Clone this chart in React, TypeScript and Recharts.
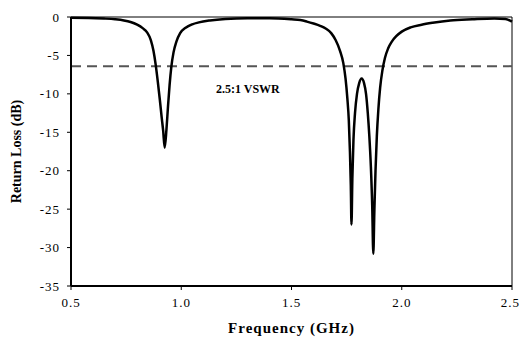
import { LineChart, Line, XAxis, YAxis, ReferenceLine } from 'recharts';

// frequency in GHz, return loss in dB
const freqs = [
  0.5, 0.58, 0.65, 0.7, 0.74, 0.77, 0.8, 0.825, 0.845, 0.862, 0.874, 0.884, 0.894, 0.903, 0.911, 0.918, 0.925,
  0.933, 0.94, 0.947, 0.955, 0.965, 0.978, 0.995, 1.02, 1.05, 1.08, 1.13, 1.2, 1.3, 1.4, 1.5, 1.54, 1.57, 1.6,
  1.63, 1.655, 1.68, 1.7, 1.72, 1.735, 1.745, 1.753, 1.76, 1.765, 1.769, 1.772,
  1.776, 1.781, 1.788, 1.797, 1.807, 1.818, 1.829, 1.838, 1.846, 1.853, 1.86, 1.866, 1.871,
  1.876, 1.881, 1.887, 1.894, 1.902, 1.912, 1.924, 1.938, 1.955, 1.975, 2.0, 2.04, 2.09, 2.14, 2.22,
  2.32, 2.42, 2.47, 2.5,
];
const returnLoss = [
  -0.1, -0.12, -0.2, -0.3, -0.45, -0.65, -1.0, -1.45, -2.0, -3.0, -4.4, -6.2, -8.5, -10.8, -13.0, -14.8, -17.0,
  -14.6, -11.6, -8.9, -6.5, -4.6, -3.2, -2.1, -1.4, -0.95, -0.7, -0.45, -0.25, -0.15, -0.15, -0.3, -0.4, -0.6, -0.85,
  -1.15, -1.5, -2.1, -3.0, -4.4, -6.0, -8.0, -10.5, -13.5, -17.5, -22.0, -27.0,
  -21.0, -16.0, -12.5, -10.0, -8.6, -8.0, -8.6, -10.0, -12.5, -15.5, -19.5, -24.5, -30.8,
  -25.0, -20.0, -15.5, -12.0, -9.2, -7.0, -5.3, -4.1, -3.2, -2.5, -1.9, -1.35, -1.0, -0.75, -0.45,
  -0.3, -0.2, -0.25, -0.6,
];
const xTicks = [0.5, 1.0, 1.5, 2.0, 2.5];
const yTicks = [0, -5, -10, -15, -20, -25, -30, -35];
const vswrLevel = -6.4;
const vswrText = '2.5:1 VSWR';

const data = freqs.map((f, i) => ({ f, rl: returnLoss[i] }));

const serif = '"Liberation Serif", "Times New Roman", serif';
const tickStyle = { fontSize: 13, fill: '#000', fontFamily: serif, letterSpacing: 1 };

export default function App() {
  return (
    <div style={{ position: 'absolute', left: 0, top: 0, background: '#fff', fontFamily: serif }}>
      <LineChart width={520} height={341} data={data} margin={{ top: 17, right: 8, bottom: 0, left: 0 }}>
        <XAxis
          dataKey="f"
          type="number"
          domain={[0.5, 2.5]}
          ticks={xTicks}
          height={55}
          tickFormatter={(v) => v.toFixed(1)}
          tick={tickStyle}
          tickSize={4}
          tickMargin={8}
          axisLine={{ stroke: '#000', strokeWidth: 2 }}
          tickLine={{ stroke: '#000' }}
          label={{
            value: 'Frequency (GHz)',
            position: 'insideBottom',
            offset: 8,
            style: { fontSize: 15, fontWeight: 'bold', fill: '#000', fontFamily: serif, letterSpacing: 1 },
          }}
        />
        <YAxis
          type="number"
          domain={[-35, 0]}
          ticks={yTicks}
          width={71}
          tick={tickStyle}
          tickSize={4}
          tickMargin={7}
          axisLine={{ stroke: '#000', strokeWidth: 2 }}
          tickLine={{ stroke: '#000' }}
          label={{
            value: 'Return Loss (dB)',
            angle: -90,
            position: 'insideLeft',
            offset: 16,
            style: { fontSize: 14, fontWeight: 'bold', fill: '#000', fontFamily: serif, textAnchor: 'middle' },
          }}
        />
        <ReferenceLine y={0} stroke="#000" strokeWidth={1} />
        <ReferenceLine x={2.5} stroke="#000" strokeWidth={1} />
        <ReferenceLine
          y={vswrLevel}
          stroke="#555"
          strokeWidth={2}
          strokeDasharray="10 6"
          label={(props: any) => (
            <text
              x={props.viewBox.x + 145}
              y={props.viewBox.y + 27}
              fontSize={12}
              fontWeight="bold"
              fontFamily={serif}
              fill="#000"
            >
              {vswrText}
            </text>
          )}
        />
        <Line
          type="monotone"
          dataKey="rl"
          stroke="#000"
          strokeWidth={2.5}
          dot={false}
          isAnimationActive={false}
        />
      </LineChart>
    </div>
  );
}
